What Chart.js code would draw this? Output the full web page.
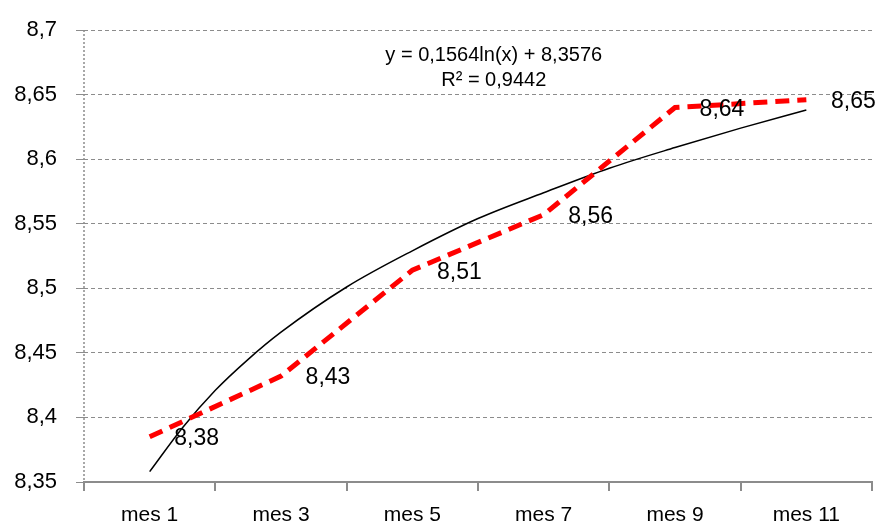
<!DOCTYPE html>
<html>
<head>
<meta charset="utf-8">
<script src="https://cdn.jsdelivr.net/npm/chart.js@4.4.1/dist/chart.umd.min.js"></script>
<style>
    html, body { margin: 0; padding: 0; background: #fff; }
    #wrap { width: 877px; height: 527px; }
</style>
</head>
<body>
<div id="wrap"><canvas id="myChart"></canvas></div>
<script>
// categories and values
const months = ['mes 1', 'mes 3', 'mes 5', 'mes 7', 'mes 9', 'mes 11'];
const values = [8.385, 8.432, 8.514, 8.557, 8.640, 8.646];
const valueLabels = ['8,38', '8,43', '8,51', '8,56', '8,64', '8,65'];

// logarithmic trendline, sampled along the category index
const trendX = [1, 1.25, 1.5, 1.75, 2, 2.5, 3, 3.5, 4, 4.5, 5, 5.5, 6];
const trendY = [8.358, 8.392, 8.421, 8.445, 8.466, 8.501, 8.529, 8.554, 8.574, 8.593, 8.609, 8.624, 8.638];
const trendText = ['y = 0,1564ln(x) + 8,3576', 'R² = 0,9442'];

const yTicks = [8.35, 8.4, 8.45, 8.5, 8.55, 8.6, 8.65, 8.7];

const FONT = '"Liberation Sans", Arial, sans-serif';
const GREY = '#8c8c8c';

// labels next to each point + trend equation + dotted left axis
const extras = {
    id: 'extras',
    beforeDatasetsDraw(chart) {
        const { ctx, chartArea } = chart;
        ctx.save();
        ctx.strokeStyle = GREY;
        ctx.lineWidth = 1.5;
        ctx.setLineDash([2, 2]);
        ctx.beginPath();
        ctx.moveTo(chartArea.left, chartArea.top);
        ctx.lineTo(chartArea.left, chartArea.bottom);
        ctx.stroke();
        ctx.restore();
    },
    afterDatasetsDraw(chart) {
        const { ctx } = chart;
        const meta = chart.getDatasetMeta(0);
        ctx.save();
        ctx.fillStyle = '#000';
        ctx.textAlign = 'center';
        ctx.textBaseline = 'middle';
        ctx.font = '23px ' + FONT;
        meta.data.forEach((pt, i) => {
            ctx.fillText(valueLabels[i], pt.x + 47, pt.y + 2);
        });
        ctx.font = '20px ' + FONT;
        const xs = chart.scales.xt;
        const cx = xs.getPixelForValue(3.62);
        ctx.fillText(trendText[0], cx, 55);
        ctx.fillText(trendText[1], cx, 80);
        ctx.restore();
    }
};

const ctx = document.getElementById('myChart').getContext('2d');
const chart = new Chart(ctx, {
    type: 'line',
    data: {
        labels: months,
        datasets: [{
            label: 'valor',
            data: values,
            xAxisID: 'x',
            borderColor: '#ff0000',
            borderWidth: 5,
            borderDash: [14, 8],
            borderCapStyle: 'butt',
            pointRadius: 0,
            tension: 0,
            fill: false
        }, {
            label: 'tendencia',
            data: trendX.map((x, i) => ({ x: x, y: trendY[i] })),
            xAxisID: 'xt',
            borderColor: '#000',
            borderWidth: 1.5,
            pointRadius: 0,
            cubicInterpolationMode: 'monotone',
            fill: false
        }]
    },
    options: {
        responsive: true,
        maintainAspectRatio: false,
        animation: false,
        layout: { padding: { top: 16, right: 5, left: 0, bottom: 0 } },
        plugins: {
            legend: { display: false },
            tooltip: { enabled: false }
        },
        scales: {
            x: {
                type: 'category',
                offset: true,
                grid: {
                    offset: true,
                    drawOnChartArea: false,
                    tickLength: 9,
                    color: GREY,
                    lineWidth: 2
                },
                border: { color: GREY, width: 2 },
                ticks: {
                    color: '#000',
                    font: { family: FONT, size: 21 },
                    padding: 12,
                    maxRotation: 0
                },
                afterFit: (s) => { s.height = 45; }
            },
            xt: {
                type: 'linear',
                display: false,
                min: 0.5,
                max: 6.5
            },
            y: {
                min: 8.35,
                max: 8.7,
                afterBuildTicks: (s) => { s.ticks = yTicks.map(v => ({ value: v })); },
                grid: {
                    color: GREY,
                    lineWidth: 1,
                    tickLength: 8
                },
                border: { display: false, dash: [4, 3] },
                ticks: {
                    color: '#000',
                    font: { family: FONT, size: 22, lineHeight: 1 },
                    padding: 19,
                    callback: (v) => Number(v.toFixed(2)).toString().replace('.', ',')
                },
                afterFit: (s) => { s.width = 84; }
            }
        }
    },
    plugins: [extras]
});
</script>
</body>
</html>
